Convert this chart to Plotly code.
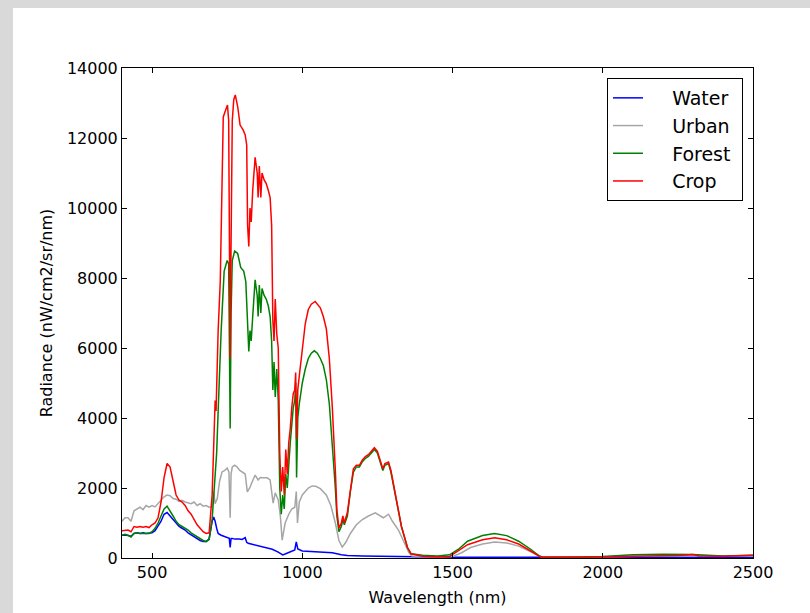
import plotly.graph_objects as go

# ---------------- data ----------------
water_wl = [400, 410, 420, 430, 440, 450, 460, 470, 480, 490, 500, 510, 520, 530, 540, 550, 560, 570,
            580, 590, 600, 610, 620, 630, 640, 650, 660, 670, 680, 690, 700, 705, 710, 715, 720, 730,
            740, 750, 757, 760, 763, 767, 775, 790, 800, 810, 815, 820, 840, 860, 880, 900, 920, 935,
            945, 960, 975, 980, 985, 1000, 1050, 1100, 1130, 1150, 1200, 1300, 1400, 1500, 1700, 1900,
            2100, 2300, 2500]
water_rad = [650, 660, 640, 620, 700, 720, 700, 720, 700, 720, 720, 780, 900, 1050, 1250, 1300, 1200, 1100,
             1000, 900, 850, 800, 720, 660, 600, 560, 500, 470, 470, 550, 1050, 1170, 1050, 850, 700, 650,
             620, 600, 560, 300, 560, 560, 540, 540, 530, 580, 450, 420, 380, 330, 300, 250, 170, 90,
             120, 170, 230, 460, 260, 200, 180, 150, 90, 70, 60, 40, 20, 20, 20, 20,
             30, 30, 20]

urban_wl = [400, 410, 420, 430, 440, 450, 460, 470, 480, 490, 500, 510, 520, 530, 540, 550, 560, 570,
            580, 590, 600, 610, 620, 630, 640, 650, 660, 670, 680, 690, 700, 705, 710, 717, 725, 733,
            742, 750, 756, 760, 763, 767, 775, 783, 792, 800, 810, 817, 825, 833, 843, 853, 860, 867,
            875, 883, 893, 900, 903, 910, 920, 927, 933, 943, 955, 965, 975, 980, 984, 990, 1000, 1010,
            1020, 1033, 1045, 1060, 1080, 1095, 1110, 1122, 1133, 1145, 1160, 1180, 1200, 1220, 1243,
            1260, 1270, 1287, 1300, 1320, 1340, 1355, 1365, 1400, 1450, 1500, 1530, 1560, 1600, 1640,
            1680, 1720, 1760, 1790, 1800, 1900, 2000, 2100, 2200, 2300, 2400, 2500]
urban_rad = [1050, 1150, 1150, 1050, 1350, 1400, 1450, 1380, 1500, 1450, 1500, 1460, 1550, 1650, 1750, 1800, 1780, 1700,
             1680, 1620, 1650, 1600, 1580, 1550, 1600, 1500, 1550, 1480, 1500, 1450, 1460, 1900, 1550, 1700, 2200, 2460,
             2500, 2570, 2450, 1150, 2400, 2600, 2650, 2600, 2500, 2460, 2400, 1890, 2000, 2170, 2370, 2230, 2300, 2290,
             2280, 2290, 2230, 1660, 1570, 1860, 1660, 1200, 510, 1000, 1250, 1400, 1450, 1900, 1000, 1600, 1800, 1900,
             2000, 2060, 2050, 1980, 1800, 1500, 1000, 500, 310, 450, 700, 950, 1100, 1200, 1290,
             1200, 1150, 1250, 1050, 800, 450, 150, 60, 40, 30, 40, 150, 300, 400, 460,
             430, 340, 180, 40, 20, 20, 30, 50, 60, 70, 50, 60]

forest_wl = [400, 410, 420, 430, 440, 450, 460, 470, 480, 490, 500, 510, 520, 530, 540, 550, 560, 570,
             580, 590, 600, 610, 620, 630, 640, 650, 660, 670, 680, 690, 700, 705, 710, 715, 720, 730,
             740, 745, 750, 755, 760, 763, 767, 775, 785, 795, 805, 812, 817, 822, 826, 830, 835, 843,
             850, 853, 857, 862, 866, 873, 880, 887, 893, 898, 902, 906, 910, 915, 920, 925, 930, 935,
             940, 945, 950, 955, 960, 965, 970, 975, 978, 981, 985, 990, 1000, 1010, 1020, 1030, 1040,
             1050, 1060, 1070, 1080, 1090, 1100, 1110, 1115, 1122, 1130, 1135, 1140, 1150, 1160, 1170,
             1180, 1190, 1200, 1210, 1220, 1230, 1240, 1250, 1260, 1268, 1275, 1287, 1295, 1310, 1330,
             1350, 1362, 1400, 1450, 1490, 1520, 1550, 1600, 1640, 1680, 1720, 1760, 1790, 1800, 1900,
             2000, 2100, 2200, 2300, 2400, 2500]
forest_rad = [650, 680, 650, 600, 700, 720, 700, 700, 720, 700, 750, 850, 1000, 1200, 1400, 1480, 1350, 1200,
              1050, 950, 900, 850, 800, 720, 660, 620, 560, 500, 470, 530, 1100, 1800, 2600, 3000, 4200, 6500,
              8200, 8400, 8500, 8400, 3700, 7000, 8500, 8770, 8700, 8300, 8200, 7900, 6800, 5900, 6500, 6200, 6900, 7950,
              7500, 6900, 7800, 7000, 7700, 7500, 7400, 7200, 6900, 6200, 4800, 5600, 4600, 5400, 4500, 2000, 1250, 1800,
              1400, 2400, 2000, 2800, 3300, 3800, 4300, 4500, 5000, 2300, 4000, 4400, 5000, 5400, 5700, 5850, 5920,
              5850, 5700, 5500, 5100, 4400, 3300, 2000, 1200, 750, 900, 1100, 950, 1200, 1900, 2450,
              2600, 2600, 2750, 2850, 2900, 3000, 3100, 3000, 2750, 2500, 2650, 2700, 2450, 1800, 900,
              300, 120, 80, 60, 90, 250, 480, 640, 700, 640, 480, 250, 50, 20, 20,
              40, 90, 110, 100, 60, 80]

crop_wl = [400, 410, 420, 430, 440, 450, 460, 470, 480, 490, 500, 510, 520, 530, 540, 550, 560, 570,
           580, 590, 600, 610, 620, 630, 640, 650, 660, 670, 680, 690, 700, 705, 710, 713, 720, 727,
           737, 745, 751, 755, 760, 763, 767, 772, 777, 785, 793, 803, 810, 815, 818, 822, 826, 830, 835, 843,
           850, 853, 857, 862, 866, 873, 880, 887, 893, 898, 902, 906, 910, 915, 920, 925, 930, 935,
           940, 945, 950, 955, 960, 965, 970, 975, 978, 981, 985, 990, 1000, 1010, 1020, 1030, 1043,
           1050, 1060, 1070, 1080, 1090, 1100, 1110, 1115, 1122, 1130, 1135, 1140, 1150, 1160, 1170,
           1180, 1190, 1200, 1210, 1220, 1230, 1240, 1250, 1260, 1268, 1275, 1287, 1295, 1310, 1330,
           1350, 1362, 1400, 1450, 1490, 1520, 1550, 1600, 1640, 1680, 1720, 1760, 1790, 1800, 1900,
           2000, 2100, 2200, 2250, 2300, 2320, 2400, 2500]
crop_rad = [780, 800, 800, 750, 900, 880, 900, 880, 900, 870, 950, 1000, 1150, 1600, 2300, 2700, 2600, 2200,
            1800, 1650, 1600, 1500, 1350, 1250, 1100, 950, 850, 750, 700, 720, 1800, 3500, 4500, 4200, 6500, 7900,
            12600, 12800, 12940, 12500, 5700, 9000, 12500, 13100, 13230, 12900, 12370, 12230, 12090, 11800, 9500, 8900, 10000, 9600, 10500, 11450,
            11000, 10300, 11200, 10300, 11000, 10800, 10700, 10500, 10300, 9500, 6800, 6200, 7400, 6400, 6000, 3000, 1900, 2600,
            1800, 3100, 2400, 3300, 3700, 4300, 4700, 4800, 5300, 3400, 4800, 5200, 6000, 6700, 7100, 7250, 7330,
            7250, 7150, 6900, 6550, 5700, 4300, 2500, 1400, 850, 1000, 1200, 1000, 1300, 2000, 2550,
            2650, 2650, 2800, 2900, 2950, 3050, 3150, 3050, 2800, 2550, 2700, 2740, 2500, 1800, 900,
            300, 120, 50, 30, 40, 200, 380, 520, 580, 520, 400, 200, 40, 20, 20,
            30, 50, 60, 70, 100, 60, 50, 80]

series_names = ["Water", "Urban", "Forest", "Crop"]
series_colors = ["#0000ff", "#a6a6a6", "#008000", "#ff0000"]
x_ticks = [500, 1000, 1500, 2000, 2500]
y_ticks = [0, 2000, 4000, 6000, 8000, 10000, 12000, 14000]

# ---------------- figure ----------------
FONT = "DejaVu Sans"
NB = "\u00a0"
fig = go.Figure()
for name, wl, rad, col in zip(series_names,
                              [water_wl, urban_wl, forest_wl, crop_wl],
                              [water_rad, urban_rad, forest_rad, crop_rad],
                              series_colors):
    fig.add_trace(go.Scatter(x=wl, y=rad, mode="lines", name=NB * 4 + name + NB,
                             line=dict(color=col, width=1.5)))

W, H = 810, 613
L, R, T, B = 122, 57, 68, 55
pw, ph = W - L - R, H - T - B

fig.update_layout(
    width=W, height=H,
    margin=dict(l=L, r=R, t=T, b=B, pad=0, autoexpand=False),
    paper_bgcolor="#d9d9d9",
    plot_bgcolor="white",
    font=dict(family=FONT, size=16, color="black"),
    showlegend=True,
    legend=dict(x=(743 - L) / pw, xanchor="right", y=(H - B - 78) / ph, yanchor="top",
                bgcolor="white", bordercolor="black", borderwidth=1,
                font=dict(family=FONT, size=19, color="black"),
                tracegroupgap=0, itemwidth=30),
    shapes=[dict(type="rect", xref="paper", yref="paper", layer="below",
                 x0=(13 - L) / pw, x1=(W + 5 - L) / pw,
                 y0=-(B + 5) / ph, y1=(H - B - 8) / ph,
                 fillcolor="white", line=dict(width=0))],
)
fig.update_xaxes(range=[400, 2500], tickvals=x_ticks, ticktext=[str(v) for v in x_ticks],
                 showgrid=False, zeroline=False, showline=True, linecolor="black", linewidth=1,
                 mirror="ticks", ticks="inside", ticklen=5, tickcolor="black", automargin=False,
                 tickfont=dict(family=FONT, size=16),
                 title=dict(text="Wavelength (nm)", font=dict(family=FONT, size=16), standoff=10))
fig.update_yaxes(range=[0, 14000], tickvals=y_ticks, ticktext=[str(v) for v in y_ticks],
                 showgrid=False, zeroline=False, showline=True, linecolor="black", linewidth=1,
                 mirror="ticks", ticks="inside", ticklen=5, tickcolor="black", automargin=False,
                 tickfont=dict(family=FONT, size=16),
                 title=dict(text="Radiance (nW/cm2/sr/nm)", font=dict(family=FONT, size=16), standoff=10))

fig.write_html("out.html", config={"displayModeBar": False},
               post_script="document.body.style.margin='0px';document.body.style.padding='0px';")
